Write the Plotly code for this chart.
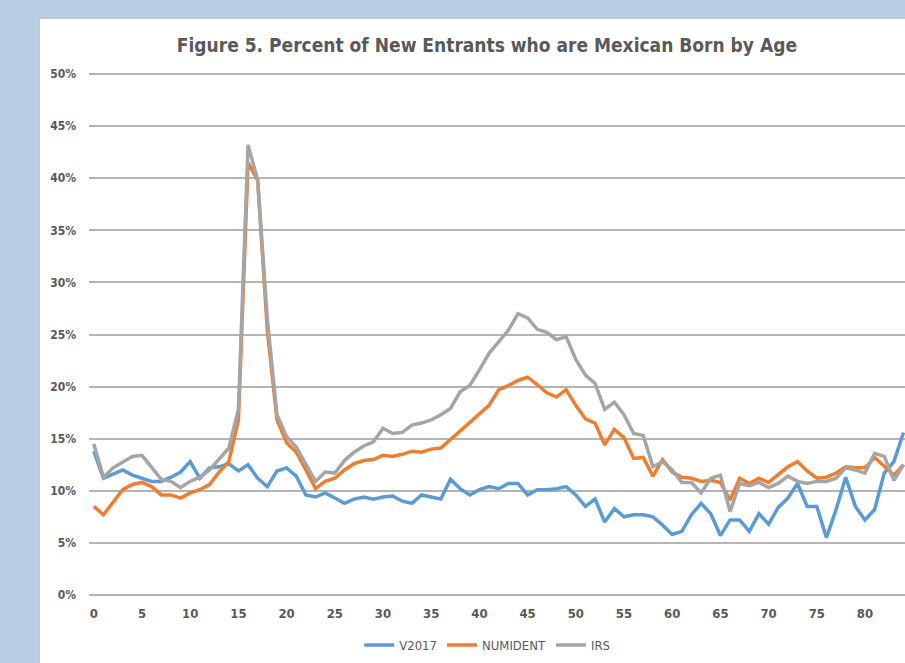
import plotly.graph_objects as go

# Age of new entrant (years)
ages = list(range(0, 85))

# Percent of new entrants who are Mexican born, by source
v2017 = [13.8, 11.2, 11.6, 12.0, 11.5, 11.2, 10.9, 10.9, 11.3, 11.8,
         12.8, 11.2, 12.2, 12.3, 12.6, 11.9, 12.5, 11.2, 10.4, 11.9,
         12.2, 11.4, 9.6, 9.4, 9.8, 9.3, 8.8, 9.2, 9.4, 9.2,
         9.4, 9.5, 9.0, 8.8, 9.6, 9.4, 9.2, 11.1, 10.2, 9.6,
         10.1, 10.4, 10.2, 10.7, 10.7, 9.6, 10.1, 10.1, 10.2, 10.4,
         9.6, 8.5, 9.2, 7.0, 8.3, 7.5, 7.7, 7.7, 7.5, 6.7,
         5.8, 6.1, 7.7, 8.8, 7.8, 5.7, 7.2, 7.2, 6.1, 7.8,
         6.8, 8.4, 9.3, 10.7, 8.5, 8.5, 5.5, 8.2, 11.3, 8.5,
         7.2, 8.2, 11.7, 12.8, 15.6]

numident = [8.5, 7.7, 8.9, 10.1, 10.6, 10.8, 10.4, 9.6, 9.6, 9.3,
            9.8, 10.1, 10.6, 11.8, 12.8, 16.8, 41.5, 39.8, 25.4, 16.8,
            14.6, 13.7, 12.0, 10.2, 10.9, 11.2, 12.0, 12.6, 12.9, 13.0,
            13.4, 13.3, 13.5, 13.8, 13.7, 14.0, 14.1, 14.9, 15.8, 16.5,
            17.3, 18.2, 19.7, 20.1, 20.6, 20.9, 20.2, 19.4, 19.0, 19.7,
            18.2, 16.9, 16.5, 14.4, 15.9, 15.1, 13.1, 13.2, 11.4, 13.0,
            11.8, 11.3, 11.2, 10.9, 11.0, 10.8, 9.1, 11.2, 10.7, 11.2,
            10.8, 11.5, 12.3, 12.8, 11.9, 11.2, 11.3, 11.7, 12.3, 12.2,
            12.2, 13.2, 12.4, 11.5, 12.5]

irs = [14.5, 11.3, 12.2, 12.8, 13.3, 13.4, 12.3, 11.1, 10.9, 10.3,
       10.9, 11.3, 12.0, 13.1, 14.1, 17.8, 43.2, 39.8, 26.5, 17.3,
       15.2, 14.2, 12.5, 10.9, 11.8, 11.7, 12.9, 13.7, 14.3, 14.7,
       16.0, 15.5, 15.6, 16.3, 16.5, 16.8, 17.3, 17.9, 19.5, 20.1,
       21.6, 23.2, 24.3, 25.4, 27.0, 26.6, 25.5, 25.2, 24.5, 24.8,
       22.6, 21.1, 20.3, 17.8, 18.5, 17.3, 15.5, 15.3, 12.3, 12.8,
       12.0, 10.8, 10.8, 9.8, 11.2, 11.5, 8.0, 10.7, 10.5, 10.8,
       10.3, 10.7, 11.4, 10.9, 10.7, 10.9, 10.9, 11.2, 12.2, 12.0,
       11.7, 13.6, 13.3, 11.0, 12.5]

x_ticks = list(range(0, 90, 5))
y_ticks = list(range(0, 55, 5))

FONT = "Liberation Sans Narrow, DejaVu Sans Condensed, Arial Narrow, sans-serif"
TEXT = "#595959"

series = [
    ("V2017", v2017, "#5B9BD5"),
    ("NUMIDENT", numident, "#ED7D31"),
    ("IRS", irs, "#A5A5A5"),
]

fig = go.Figure()
for name, vals, color in series:
    fig.add_trace(go.Scatter(
        x=ages, y=vals, name=name, mode="lines",
        line=dict(color=color, width=3.5),
    ))

# plot area: 73px top margin, 67px bottom -> 523px for 50.2 units
fig.update_layout(
    width=905, height=663,
    margin=dict(l=89, r=0, t=73, b=67),
    paper_bgcolor="#B9CDE5",
    plot_bgcolor="rgba(0,0,0,0)",
    font=dict(family=FONT, color=TEXT, size=12),
    title=dict(
        text="<b>Figure 5. Percent of New Entrants who are Mexican Born by Age</b>",
        x=0.538, xanchor="center", y=0.932, yanchor="middle",
        font=dict(size=19, color=TEXT, family=FONT),
    ),
    showlegend=True,
    legend=dict(
        orientation="h", x=0.488, xanchor="center", y=-0.094, yanchor="middle",
        font=dict(size=13, color=TEXT, family=FONT),
        bgcolor="rgba(0,0,0,0)", itemwidth=30, tracegroupgap=0,
    ),
    shapes=[dict(
        type="rect", xref="paper", yref="paper",
        x0=-0.0613, x1=1.2, y0=-0.3, y1=1.105,
        fillcolor="white", line=dict(color="#C8C8C8", width=2),
        layer="below",
    )],
)

fig.update_xaxes(
    range=[-0.5, 84.15],
    tickvals=x_ticks, ticktext=[f"<b>{v}</b>" for v in x_ticks],
    showgrid=False, zeroline=False, showline=False, ticks="",
    ticklabelstandoff=8,
    tickfont=dict(size=13, color=TEXT, family=FONT),
)
fig.update_yaxes(
    range=[-0.1, 50.1],
    tickvals=y_ticks, ticktext=[f"<b>{v}%</b>" for v in y_ticks],
    showgrid=True, gridcolor="#B4B4B4", gridwidth=2,
    zeroline=False, showline=False, ticks="",
    ticklabelstandoff=12,
    tickfont=dict(size=12, color=TEXT, family=FONT),
)

fig.write_html("out.html")
